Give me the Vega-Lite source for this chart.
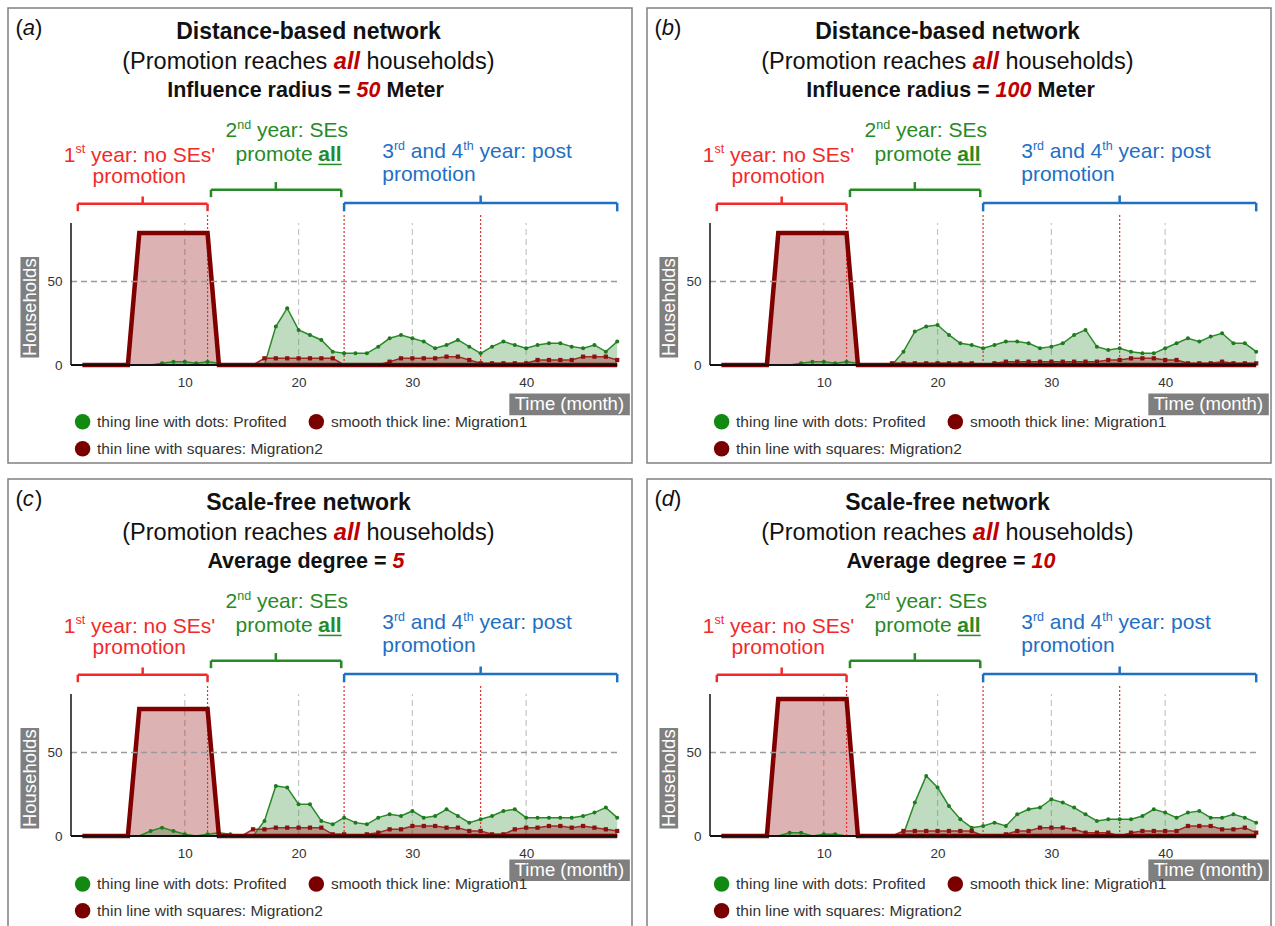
{
"$schema":"https://vega.github.io/schema/vega-lite/v6.json",
"padding":{"left":7,"top":7,"right":0,"bottom":0},
"data":{"values":[
{"panel":"a","kind":"meta","letter":"a","network":"Distance-based network","param":"Influence radius =","paramValue":"50","unit":"Meter"},
{"panel":"b","kind":"meta","letter":"b","network":"Distance-based network","param":"Influence radius =","paramValue":"100","unit":"Meter"},
{"panel":"c","kind":"meta","letter":"c","network":"Scale-free network","param":"Average degree =","paramValue":"5","unit":""},
{"panel":"d","kind":"meta","letter":"d","network":"Scale-free network","param":"Average degree =","paramValue":"10","unit":""},
{"panel":"a","month":1,"Profited":0,"Migration1":0,"Migration2":0},
{"panel":"a","month":2,"Profited":0,"Migration1":0,"Migration2":0},
{"panel":"a","month":3,"Profited":0,"Migration1":0,"Migration2":0},
{"panel":"a","month":4,"Profited":0,"Migration1":0,"Migration2":0},
{"panel":"a","month":5,"Profited":0,"Migration1":0,"Migration2":0},
{"panel":"a","month":6,"Profited":0,"Migration1":79,"Migration2":0},
{"panel":"a","month":7,"Profited":0,"Migration1":79,"Migration2":0},
{"panel":"a","month":8,"Profited":1,"Migration1":79,"Migration2":0},
{"panel":"a","month":9,"Profited":2,"Migration1":79,"Migration2":0},
{"panel":"a","month":10,"Profited":2,"Migration1":79,"Migration2":0},
{"panel":"a","month":11,"Profited":1,"Migration1":79,"Migration2":0},
{"panel":"a","month":12,"Profited":2,"Migration1":79,"Migration2":0},
{"panel":"a","month":13,"Profited":1,"Migration1":0,"Migration2":0},
{"panel":"a","month":14,"Profited":0,"Migration1":0,"Migration2":0},
{"panel":"a","month":15,"Profited":0,"Migration1":0,"Migration2":0},
{"panel":"a","month":16,"Profited":0,"Migration1":0,"Migration2":0},
{"panel":"a","month":17,"Profited":0,"Migration1":0,"Migration2":4},
{"panel":"a","month":18,"Profited":23,"Migration1":0,"Migration2":4},
{"panel":"a","month":19,"Profited":34,"Migration1":0,"Migration2":4},
{"panel":"a","month":20,"Profited":21,"Migration1":0,"Migration2":4},
{"panel":"a","month":21,"Profited":18,"Migration1":0,"Migration2":4},
{"panel":"a","month":22,"Profited":15,"Migration1":0,"Migration2":4},
{"panel":"a","month":23,"Profited":8,"Migration1":0,"Migration2":4},
{"panel":"a","month":24,"Profited":7,"Migration1":0,"Migration2":0},
{"panel":"a","month":25,"Profited":7,"Migration1":0,"Migration2":0},
{"panel":"a","month":26,"Profited":7,"Migration1":0,"Migration2":0},
{"panel":"a","month":27,"Profited":11,"Migration1":0,"Migration2":0},
{"panel":"a","month":28,"Profited":16,"Migration1":0,"Migration2":2},
{"panel":"a","month":29,"Profited":18,"Migration1":0,"Migration2":4},
{"panel":"a","month":30,"Profited":16,"Migration1":0,"Migration2":4},
{"panel":"a","month":31,"Profited":14,"Migration1":0,"Migration2":4},
{"panel":"a","month":32,"Profited":10,"Migration1":0,"Migration2":4},
{"panel":"a","month":33,"Profited":12,"Migration1":0,"Migration2":5},
{"panel":"a","month":34,"Profited":15,"Migration1":0,"Migration2":5},
{"panel":"a","month":35,"Profited":11,"Migration1":0,"Migration2":3},
{"panel":"a","month":36,"Profited":7,"Migration1":0,"Migration2":1},
{"panel":"a","month":37,"Profited":11,"Migration1":0,"Migration2":1},
{"panel":"a","month":38,"Profited":14,"Migration1":0,"Migration2":1},
{"panel":"a","month":39,"Profited":12,"Migration1":0,"Migration2":1},
{"panel":"a","month":40,"Profited":10,"Migration1":0,"Migration2":1},
{"panel":"a","month":41,"Profited":12,"Migration1":0,"Migration2":3},
{"panel":"a","month":42,"Profited":13,"Migration1":0,"Migration2":3},
{"panel":"a","month":43,"Profited":13,"Migration1":0,"Migration2":3},
{"panel":"a","month":44,"Profited":11,"Migration1":0,"Migration2":3},
{"panel":"a","month":45,"Profited":10,"Migration1":0,"Migration2":5},
{"panel":"a","month":46,"Profited":12,"Migration1":0,"Migration2":5},
{"panel":"a","month":47,"Profited":8,"Migration1":0,"Migration2":5},
{"panel":"a","month":48,"Profited":14,"Migration1":0,"Migration2":3},
{"panel":"b","month":1,"Profited":0,"Migration1":0,"Migration2":0},
{"panel":"b","month":2,"Profited":0,"Migration1":0,"Migration2":0},
{"panel":"b","month":3,"Profited":0,"Migration1":0,"Migration2":0},
{"panel":"b","month":4,"Profited":0,"Migration1":0,"Migration2":0},
{"panel":"b","month":5,"Profited":0,"Migration1":0,"Migration2":0},
{"panel":"b","month":6,"Profited":0,"Migration1":79,"Migration2":0},
{"panel":"b","month":7,"Profited":0,"Migration1":79,"Migration2":0},
{"panel":"b","month":8,"Profited":1,"Migration1":79,"Migration2":0},
{"panel":"b","month":9,"Profited":2,"Migration1":79,"Migration2":0},
{"panel":"b","month":10,"Profited":2,"Migration1":79,"Migration2":0},
{"panel":"b","month":11,"Profited":1,"Migration1":79,"Migration2":0},
{"panel":"b","month":12,"Profited":2,"Migration1":79,"Migration2":0},
{"panel":"b","month":13,"Profited":1,"Migration1":0,"Migration2":0},
{"panel":"b","month":14,"Profited":0,"Migration1":0,"Migration2":0},
{"panel":"b","month":15,"Profited":0,"Migration1":0,"Migration2":0},
{"panel":"b","month":16,"Profited":0,"Migration1":0,"Migration2":1},
{"panel":"b","month":17,"Profited":8,"Migration1":0,"Migration2":1},
{"panel":"b","month":18,"Profited":20,"Migration1":0,"Migration2":1},
{"panel":"b","month":19,"Profited":23,"Migration1":0,"Migration2":1},
{"panel":"b","month":20,"Profited":24,"Migration1":0,"Migration2":1},
{"panel":"b","month":21,"Profited":18,"Migration1":0,"Migration2":1},
{"panel":"b","month":22,"Profited":13,"Migration1":0,"Migration2":1},
{"panel":"b","month":23,"Profited":12,"Migration1":0,"Migration2":1},
{"panel":"b","month":24,"Profited":10,"Migration1":0,"Migration2":0},
{"panel":"b","month":25,"Profited":12,"Migration1":0,"Migration2":1},
{"panel":"b","month":26,"Profited":14,"Migration1":0,"Migration2":2},
{"panel":"b","month":27,"Profited":14,"Migration1":0,"Migration2":2},
{"panel":"b","month":28,"Profited":13,"Migration1":0,"Migration2":2},
{"panel":"b","month":29,"Profited":10,"Migration1":0,"Migration2":2},
{"panel":"b","month":30,"Profited":11,"Migration1":0,"Migration2":2},
{"panel":"b","month":31,"Profited":13,"Migration1":0,"Migration2":2},
{"panel":"b","month":32,"Profited":18,"Migration1":0,"Migration2":2},
{"panel":"b","month":33,"Profited":21,"Migration1":0,"Migration2":2},
{"panel":"b","month":34,"Profited":11,"Migration1":0,"Migration2":2},
{"panel":"b","month":35,"Profited":9,"Migration1":0,"Migration2":3},
{"panel":"b","month":36,"Profited":10,"Migration1":0,"Migration2":3},
{"panel":"b","month":37,"Profited":8,"Migration1":0,"Migration2":4},
{"panel":"b","month":38,"Profited":7,"Migration1":0,"Migration2":4},
{"panel":"b","month":39,"Profited":7,"Migration1":0,"Migration2":4},
{"panel":"b","month":40,"Profited":10,"Migration1":0,"Migration2":3},
{"panel":"b","month":41,"Profited":13,"Migration1":0,"Migration2":3},
{"panel":"b","month":42,"Profited":16,"Migration1":0,"Migration2":1},
{"panel":"b","month":43,"Profited":14,"Migration1":0,"Migration2":1},
{"panel":"b","month":44,"Profited":17,"Migration1":0,"Migration2":1},
{"panel":"b","month":45,"Profited":19,"Migration1":0,"Migration2":2},
{"panel":"b","month":46,"Profited":13,"Migration1":0,"Migration2":1},
{"panel":"b","month":47,"Profited":13,"Migration1":0,"Migration2":1},
{"panel":"b","month":48,"Profited":8,"Migration1":0,"Migration2":1},
{"panel":"c","month":1,"Profited":0,"Migration1":0,"Migration2":0},
{"panel":"c","month":2,"Profited":0,"Migration1":0,"Migration2":0},
{"panel":"c","month":3,"Profited":0,"Migration1":0,"Migration2":0},
{"panel":"c","month":4,"Profited":0,"Migration1":0,"Migration2":0},
{"panel":"c","month":5,"Profited":0,"Migration1":0,"Migration2":0},
{"panel":"c","month":6,"Profited":0,"Migration1":76,"Migration2":0},
{"panel":"c","month":7,"Profited":3,"Migration1":76,"Migration2":0},
{"panel":"c","month":8,"Profited":5,"Migration1":76,"Migration2":0},
{"panel":"c","month":9,"Profited":3,"Migration1":76,"Migration2":0},
{"panel":"c","month":10,"Profited":1,"Migration1":76,"Migration2":0},
{"panel":"c","month":11,"Profited":0,"Migration1":76,"Migration2":0},
{"panel":"c","month":12,"Profited":1,"Migration1":76,"Migration2":0},
{"panel":"c","month":13,"Profited":2,"Migration1":0,"Migration2":0},
{"panel":"c","month":14,"Profited":1,"Migration1":0,"Migration2":0},
{"panel":"c","month":15,"Profited":0,"Migration1":0,"Migration2":0},
{"panel":"c","month":16,"Profited":0,"Migration1":0,"Migration2":4},
{"panel":"c","month":17,"Profited":9,"Migration1":0,"Migration2":4},
{"panel":"c","month":18,"Profited":30,"Migration1":0,"Migration2":5},
{"panel":"c","month":19,"Profited":29,"Migration1":0,"Migration2":5},
{"panel":"c","month":20,"Profited":19,"Migration1":0,"Migration2":5},
{"panel":"c","month":21,"Profited":19,"Migration1":0,"Migration2":5},
{"panel":"c","month":22,"Profited":9,"Migration1":0,"Migration2":5},
{"panel":"c","month":23,"Profited":7,"Migration1":0,"Migration2":1},
{"panel":"c","month":24,"Profited":11,"Migration1":0,"Migration2":1},
{"panel":"c","month":25,"Profited":8,"Migration1":0,"Migration2":0},
{"panel":"c","month":26,"Profited":7,"Migration1":0,"Migration2":1},
{"panel":"c","month":27,"Profited":11,"Migration1":0,"Migration2":2},
{"panel":"c","month":28,"Profited":13,"Migration1":0,"Migration2":4},
{"panel":"c","month":29,"Profited":12,"Migration1":0,"Migration2":4},
{"panel":"c","month":30,"Profited":15,"Migration1":0,"Migration2":6},
{"panel":"c","month":31,"Profited":11,"Migration1":0,"Migration2":6},
{"panel":"c","month":32,"Profited":12,"Migration1":0,"Migration2":6},
{"panel":"c","month":33,"Profited":16,"Migration1":0,"Migration2":5},
{"panel":"c","month":34,"Profited":12,"Migration1":0,"Migration2":5},
{"panel":"c","month":35,"Profited":8,"Migration1":0,"Migration2":3},
{"panel":"c","month":36,"Profited":10,"Migration1":0,"Migration2":3},
{"panel":"c","month":37,"Profited":12,"Migration1":0,"Migration2":1},
{"panel":"c","month":38,"Profited":15,"Migration1":0,"Migration2":1},
{"panel":"c","month":39,"Profited":16,"Migration1":0,"Migration2":4},
{"panel":"c","month":40,"Profited":11,"Migration1":0,"Migration2":5},
{"panel":"c","month":41,"Profited":11,"Migration1":0,"Migration2":5},
{"panel":"c","month":42,"Profited":11,"Migration1":0,"Migration2":6},
{"panel":"c","month":43,"Profited":11,"Migration1":0,"Migration2":6},
{"panel":"c","month":44,"Profited":11,"Migration1":0,"Migration2":5},
{"panel":"c","month":45,"Profited":12,"Migration1":0,"Migration2":6},
{"panel":"c","month":46,"Profited":14,"Migration1":0,"Migration2":5},
{"panel":"c","month":47,"Profited":17,"Migration1":0,"Migration2":4},
{"panel":"c","month":48,"Profited":11,"Migration1":0,"Migration2":3},
{"panel":"d","month":1,"Profited":0,"Migration1":0,"Migration2":0},
{"panel":"d","month":2,"Profited":0,"Migration1":0,"Migration2":0},
{"panel":"d","month":3,"Profited":0,"Migration1":0,"Migration2":0},
{"panel":"d","month":4,"Profited":0,"Migration1":0,"Migration2":0},
{"panel":"d","month":5,"Profited":0,"Migration1":0,"Migration2":0},
{"panel":"d","month":6,"Profited":0,"Migration1":82,"Migration2":0},
{"panel":"d","month":7,"Profited":2,"Migration1":82,"Migration2":0},
{"panel":"d","month":8,"Profited":2,"Migration1":82,"Migration2":0},
{"panel":"d","month":9,"Profited":0,"Migration1":82,"Migration2":0},
{"panel":"d","month":10,"Profited":1,"Migration1":82,"Migration2":0},
{"panel":"d","month":11,"Profited":1,"Migration1":82,"Migration2":0},
{"panel":"d","month":12,"Profited":0,"Migration1":82,"Migration2":0},
{"panel":"d","month":13,"Profited":0,"Migration1":0,"Migration2":0},
{"panel":"d","month":14,"Profited":0,"Migration1":0,"Migration2":0},
{"panel":"d","month":15,"Profited":0,"Migration1":0,"Migration2":0},
{"panel":"d","month":16,"Profited":0,"Migration1":0,"Migration2":0},
{"panel":"d","month":17,"Profited":1,"Migration1":0,"Migration2":3},
{"panel":"d","month":18,"Profited":20,"Migration1":0,"Migration2":3},
{"panel":"d","month":19,"Profited":36,"Migration1":0,"Migration2":3},
{"panel":"d","month":20,"Profited":29,"Migration1":0,"Migration2":3},
{"panel":"d","month":21,"Profited":18,"Migration1":0,"Migration2":3},
{"panel":"d","month":22,"Profited":10,"Migration1":0,"Migration2":3},
{"panel":"d","month":23,"Profited":5,"Migration1":0,"Migration2":3},
{"panel":"d","month":24,"Profited":6,"Migration1":0,"Migration2":0},
{"panel":"d","month":25,"Profited":8,"Migration1":0,"Migration2":0},
{"panel":"d","month":26,"Profited":6,"Migration1":0,"Migration2":1},
{"panel":"d","month":27,"Profited":13,"Migration1":0,"Migration2":3},
{"panel":"d","month":28,"Profited":16,"Migration1":0,"Migration2":3},
{"panel":"d","month":29,"Profited":17,"Migration1":0,"Migration2":5},
{"panel":"d","month":30,"Profited":22,"Migration1":0,"Migration2":5},
{"panel":"d","month":31,"Profited":20,"Migration1":0,"Migration2":5},
{"panel":"d","month":32,"Profited":17,"Migration1":0,"Migration2":4},
{"panel":"d","month":33,"Profited":13,"Migration1":0,"Migration2":2},
{"panel":"d","month":34,"Profited":9,"Migration1":0,"Migration2":2},
{"panel":"d","month":35,"Profited":10,"Migration1":0,"Migration2":2},
{"panel":"d","month":36,"Profited":10,"Migration1":0,"Migration2":0},
{"panel":"d","month":37,"Profited":10,"Migration1":0,"Migration2":2},
{"panel":"d","month":38,"Profited":12,"Migration1":0,"Migration2":3},
{"panel":"d","month":39,"Profited":16,"Migration1":0,"Migration2":3},
{"panel":"d","month":40,"Profited":14,"Migration1":0,"Migration2":3},
{"panel":"d","month":41,"Profited":11,"Migration1":0,"Migration2":3},
{"panel":"d","month":42,"Profited":14,"Migration1":0,"Migration2":6},
{"panel":"d","month":43,"Profited":15,"Migration1":0,"Migration2":6},
{"panel":"d","month":44,"Profited":11,"Migration1":0,"Migration2":6},
{"panel":"d","month":45,"Profited":11,"Migration1":0,"Migration2":4},
{"panel":"d","month":46,"Profited":13,"Migration1":0,"Migration2":4},
{"panel":"d","month":47,"Profited":11,"Migration1":0,"Migration2":5},
{"panel":"d","month":48,"Profited":8,"Migration1":0,"Migration2":2}
]},
"facet":{"field":"panel","type":"nominal","header":{"labels":false,"title":null,"labelExpr":"''","labelFontSize":0,"labelPadding":0,"titlePadding":0,"labelColor":"transparent"}},
"columns":2,
"spacing":{"row":14,"column":13},
"resolve":{"axis":{"x":"independent","y":"independent"}},
"spec":{
"width":624,"height":455,
"layer":[
{"transform":[{"filter":"isValid(datum.month)"}],
 "layer":[
  {"transform":[{"filter":"datum.month % 10 == 0"}],
   "mark":{"type":"rule","color":"#c4c4c4","strokeDash":[6,4],"strokeWidth":1.2},
   "encoding":{"x":{"field":"month","type":"quantitative","title":null},"y":{"datum":0},"y2":{"datum":85}}},
  {"mark":{"type":"area","color":"#8b0000","opacity":0.3},
   "encoding":{
    "x":{"field":"month","type":"quantitative","title":null,"scale":{"domain":[-5.536,49.3],"nice":false,"zero":false},
     "axis":{"orient":"bottom","offset":-98,"values":[10,20,30,40],"domain":false,"ticks":false,"grid":false,"labelFontSize":13.5,"labelColor":"#333","labelPadding":10,"labelFont":"Liberation Sans","title":null}},
    "y":{"field":"Migration1","type":"quantitative","title":null,"stack":null,"scale":{"domain":[-58.68,213.77],"nice":false,"zero":false},
     "axis":{"orient":"left","offset":-63,"values":[0,50],"domain":false,"ticks":false,"grid":false,"labelFontSize":13.5,"labelColor":"#333","labelPadding":9,"labelFont":"Liberation Sans","title":null}},
    "y2":{"datum":0}}},
  {"mark":{"type":"area","color":"#2e8b2e","opacity":0.3},
   "encoding":{"x":{"field":"month","type":"quantitative","title":null},"y":{"field":"Profited","type":"quantitative","title":null,"stack":null},"y2":{"datum":0}}},
  {"mark":{"type":"area","color":"#8b0000","opacity":0.3},
   "encoding":{"x":{"field":"month","type":"quantitative","title":null},"y":{"field":"Migration2","type":"quantitative","title":null,"stack":null},"y2":{"datum":0}}},
  {"transform":[{"filter":"datum.month % 12 == 0 && datum.month < 48"}],
   "mark":{"type":"rule","color":"#e03030","strokeDash":[2,2],"strokeWidth":1.2},
   "encoding":{"x":{"field":"month","type":"quantitative","title":null},"y":{"datum":0},"y2":{"datum":90}}},
  {"mark":{"type":"line","color":"#2a8a2a","strokeWidth":1.5},
   "encoding":{"x":{"field":"month","type":"quantitative","title":null},"y":{"field":"Profited","type":"quantitative","title":null}}},
  {"transform":[{"filter":"datum.Profited > 0"}],
   "mark":{"type":"point","shape":"circle","filled":true,"size":16,"color":"#1d7a1d","opacity":1},
   "encoding":{"x":{"field":"month","type":"quantitative","title":null},"y":{"field":"Profited","type":"quantitative","title":null}}},
  {"mark":{"type":"line","color":"#a02828","strokeWidth":1.5},
   "encoding":{"x":{"field":"month","type":"quantitative","title":null},"y":{"field":"Migration2","type":"quantitative","title":null}}},
  {"transform":[{"filter":"datum.Migration2 > 0"}],
   "mark":{"type":"point","shape":"square","filled":true,"size":18,"color":"#8b1010","opacity":1},
   "encoding":{"x":{"field":"month","type":"quantitative","title":null},"y":{"field":"Migration2","type":"quantitative","title":null}}},
  {"mark":{"type":"line","color":"#800000","strokeWidth":4.5,"strokeJoin":"miter"},
   "encoding":{"x":{"field":"month","type":"quantitative","title":null},"y":{"field":"Migration1","type":"quantitative","title":null}}}
 ]},
{"transform":[{"filter":"datum.kind == 'meta'"}],
 "layer":[
  {"mark":{"type":"rule","color":"#9a9a9a","strokeDash":[6,4],"strokeWidth":1.5},"encoding":{"x":{"datum":0},"x2":{"datum":48},"y":{"datum":50}}},
  {"mark":{"type":"rule","color":"#111","strokeWidth":1.5},"encoding":{"x":{"datum":0},"y":{"datum":0},"y2":{"datum":85}}},
  {"mark":{"type":"rule","color":"#111","strokeWidth":2},"encoding":{"x":{"datum":0},"x2":{"datum":48},"y":{"datum":0}}},

  {"mark":{"type":"text","text":"(","align":"left","fontSize":22},"encoding":{"x":{"datum":-4.88},"y":{"datum":202}}},
  {"mark":{"type":"text","align":"left","fontSize":22,"fontStyle":"italic","dx":7.3},"encoding":{"x":{"datum":-4.88},"y":{"datum":202},"text":{"field":"letter"}}},
  {"mark":{"type":"text","text":")","align":"left","fontSize":22,"dx":19.5},"encoding":{"x":{"datum":-4.88},"y":{"datum":202}}},

  {"mark":{"type":"text","align":"center","fontSize":23,"fontWeight":"bold"},"encoding":{"x":{"datum":20.87},"y":{"datum":199.3},"text":{"field":"network"}}},
  {"mark":{"type":"text","text":"(Promotion reaches","align":"right","fontSize":23.5,"dx":-6.5},"encoding":{"x":{"datum":23.1},"y":{"datum":181.3}}},
  {"mark":{"type":"text","text":"all","align":"left","fontSize":23.5,"fontWeight":"bold","fontStyle":"italic","color":"#c00000"},"encoding":{"x":{"datum":23.1},"y":{"datum":181.3}}},
  {"mark":{"type":"text","text":"households)","align":"left","fontSize":23.5,"dx":32.6},"encoding":{"x":{"datum":23.1},"y":{"datum":181.3}}},

  {"transform":[{"filter":"datum.panel == 'a' || datum.panel == 'b'"}],
   "layer":[
    {"mark":{"type":"text","align":"right","fontSize":21.5,"fontWeight":"bold","dx":-6},"encoding":{"x":{"datum":25.1},"y":{"datum":163.9},"text":{"field":"param"}}},
    {"mark":{"type":"text","align":"left","fontSize":21.5,"fontWeight":"bold","fontStyle":"italic","color":"#c00000"},"encoding":{"x":{"datum":25.1},"y":{"datum":163.9},"text":{"field":"paramValue"}}},
    {"mark":{"type":"rect","color":"#7f7f7f"},"encoding":{"x":{"datum":38.52},"x2":{"datum":49.11},"y":{"datum":-17.1},"y2":{"datum":-30.1}}},
    {"mark":{"type":"text","text":"Time (month)","align":"center","fontSize":18.5,"color":"#ffffff"},"encoding":{"x":{"datum":43.8},"y":{"datum":-23.6}}},
    {"mark":{"type":"point","shape":"circle","filled":true,"size":240,"color":"#128a12","opacity":1},"encoding":{"x":{"datum":1.02},"y":{"datum":-34}}},
    {"mark":{"type":"text","text":"thing line with dots: Profited","align":"left","fontSize":15.5,"color":"#333"},"encoding":{"x":{"datum":2.29},"y":{"datum":-34}}},
    {"mark":{"type":"point","shape":"circle","filled":true,"size":240,"color":"#7a0000","opacity":1},"encoding":{"x":{"datum":21.56},"y":{"datum":-34}}},
    {"mark":{"type":"text","text":"smooth thick line: Migration1","align":"left","fontSize":15.5,"color":"#333"},"encoding":{"x":{"datum":22.84},"y":{"datum":-34}}},
    {"mark":{"type":"point","shape":"circle","filled":true,"size":240,"color":"#7a0000","opacity":1},"encoding":{"x":{"datum":1.02},"y":{"datum":-50.1}}},
    {"mark":{"type":"text","text":"thin line with squares: Migration2","align":"left","fontSize":15.5,"color":"#333"},"encoding":{"x":{"datum":2.29},"y":{"datum":-50.1}}}
   ]},
  {"transform":[{"filter":"datum.panel == 'a'"}],
   "mark":{"type":"text","align":"left","fontSize":21.5,"fontWeight":"bold","dx":29.9},"encoding":{"x":{"datum":25.1},"y":{"datum":163.9},"text":{"field":"unit"}}},
  {"transform":[{"filter":"datum.panel == 'b'"}],
   "mark":{"type":"text","align":"left","fontSize":21.5,"fontWeight":"bold","dx":41.9},"encoding":{"x":{"datum":25.1},"y":{"datum":163.9},"text":{"field":"unit"}}},
  {"transform":[{"filter":"datum.panel == 'c' || datum.panel == 'd'"}],
   "layer":[
    {"mark":{"type":"text","align":"right","fontSize":21.5,"fontWeight":"bold","dx":-6},"encoding":{"x":{"datum":28.25},"y":{"datum":163.9},"text":{"field":"param"}}},
    {"mark":{"type":"text","align":"left","fontSize":21.5,"fontWeight":"bold","fontStyle":"italic","color":"#c00000"},"encoding":{"x":{"datum":28.25},"y":{"datum":163.9},"text":{"field":"paramValue"}}},
    {"mark":{"type":"rect","color":"#7f7f7f"},"encoding":{"x":{"datum":38.52},"x2":{"datum":49.11},"y":{"datum":-14},"y2":{"datum":-27}}},
    {"mark":{"type":"text","text":"Time (month)","align":"center","fontSize":18.5,"color":"#ffffff"},"encoding":{"x":{"datum":43.8},"y":{"datum":-20.5}}},
    {"mark":{"type":"point","shape":"circle","filled":true,"size":240,"color":"#128a12","opacity":1},"encoding":{"x":{"datum":1.02},"y":{"datum":-28.8}}},
    {"mark":{"type":"text","text":"thing line with dots: Profited","align":"left","fontSize":15.5,"color":"#333"},"encoding":{"x":{"datum":2.29},"y":{"datum":-28.8}}},
    {"mark":{"type":"point","shape":"circle","filled":true,"size":240,"color":"#7a0000","opacity":1},"encoding":{"x":{"datum":21.56},"y":{"datum":-28.8}}},
    {"mark":{"type":"text","text":"smooth thick line: Migration1","align":"left","fontSize":15.5,"color":"#333"},"encoding":{"x":{"datum":22.84},"y":{"datum":-28.8}}},
    {"mark":{"type":"point","shape":"circle","filled":true,"size":240,"color":"#7a0000","opacity":1},"encoding":{"x":{"datum":1.02},"y":{"datum":-44.7}}},
    {"mark":{"type":"text","text":"thin line with squares: Migration2","align":"left","fontSize":15.5,"color":"#333"},"encoding":{"x":{"datum":2.29},"y":{"datum":-44.7}}}
   ]},

  {"mark":{"type":"text","text":"1","align":"left","fontSize":21,"color":"#f22a2a"},"encoding":{"x":{"datum":-0.63},"y":{"datum":125.4}}},
  {"mark":{"type":"text","text":"st","align":"left","fontSize":12.5,"color":"#f22a2a","dx":11.7,"dy":-6.5},"encoding":{"x":{"datum":-0.63},"y":{"datum":125.4}}},
  {"mark":{"type":"text","text":"year: no SEs'","align":"left","fontSize":21,"color":"#f22a2a","dx":27.2},"encoding":{"x":{"datum":-0.63},"y":{"datum":125.4}}},
  {"mark":{"type":"text","text":"promotion","align":"center","fontSize":21,"color":"#f22a2a"},"encoding":{"x":{"datum":6.0},"y":{"datum":112.5}}},

  {"mark":{"type":"text","text":"2","align":"left","fontSize":21,"color":"#268a26"},"encoding":{"x":{"datum":13.58},"y":{"datum":140}}},
  {"mark":{"type":"text","text":"nd","align":"left","fontSize":12.5,"color":"#268a26","dx":11.7,"dy":-6.5},"encoding":{"x":{"datum":13.58},"y":{"datum":140}}},
  {"mark":{"type":"text","text":"year: SEs","align":"left","fontSize":21,"color":"#268a26","dx":31.4},"encoding":{"x":{"datum":13.58},"y":{"datum":140}}},
  {"mark":{"type":"text","text":"promote","align":"left","fontSize":21,"color":"#268a26"},"encoding":{"x":{"datum":14.46},"y":{"datum":126}}},
  {"mark":{"type":"text","text":"all","align":"left","fontSize":21,"fontWeight":"bold","color":"#268a26","dx":82.8},"encoding":{"x":{"datum":14.46},"y":{"datum":126}}},
  {"mark":{"type":"rule","color":"#268a26","strokeWidth":1.5},"encoding":{"x":{"datum":21.73},"x2":{"datum":23.79},"y":{"datum":120.1}}},

  {"mark":{"type":"text","text":"3","align":"left","fontSize":21,"color":"#1f6fc4"},"encoding":{"x":{"datum":27.35},"y":{"datum":127.4}}},
  {"mark":{"type":"text","text":"rd","align":"left","fontSize":12.5,"color":"#1f6fc4","dx":11.7,"dy":-6.5},"encoding":{"x":{"datum":27.35},"y":{"datum":127.4}}},
  {"mark":{"type":"text","text":"and","align":"left","fontSize":21,"color":"#1f6fc4","dx":28.6},"encoding":{"x":{"datum":27.35},"y":{"datum":127.4}}},
  {"mark":{"type":"text","text":"4","align":"left","fontSize":21,"color":"#1f6fc4","dx":69.4},"encoding":{"x":{"datum":27.35},"y":{"datum":127.4}}},
  {"mark":{"type":"text","text":"th","align":"left","fontSize":12.5,"color":"#1f6fc4","dx":81.1,"dy":-6.5},"encoding":{"x":{"datum":27.35},"y":{"datum":127.4}}},
  {"mark":{"type":"text","text":"year: post","align":"left","fontSize":21,"color":"#1f6fc4","dx":97.3},"encoding":{"x":{"datum":27.35},"y":{"datum":127.4}}},
  {"mark":{"type":"text","text":"promotion","align":"left","fontSize":21,"color":"#1f6fc4"},"encoding":{"x":{"datum":27.35},"y":{"datum":113.5}}},

  {"mark":{"type":"rule","color":"#f22a2a","strokeWidth":2.5},"encoding":{"x":{"datum":0.6},"x2":{"datum":12.0},"y":{"datum":96.5}}},
  {"mark":{"type":"rule","color":"#f22a2a","strokeWidth":2.5},"encoding":{"x":{"datum":0.6},"y":{"datum":92.1},"y2":{"datum":96.5}}},
  {"mark":{"type":"rule","color":"#f22a2a","strokeWidth":2.5},"encoding":{"x":{"datum":12.0},"y":{"datum":92.1},"y2":{"datum":96.5}}},
  {"mark":{"type":"rule","color":"#f22a2a","strokeWidth":2.5},"encoding":{"x":{"datum":6.3},"y":{"datum":96.5},"y2":{"datum":100.9}}},

  {"mark":{"type":"rule","color":"#268a26","strokeWidth":2.5},"encoding":{"x":{"datum":12.3},"x2":{"datum":23.75},"y":{"datum":105}}},
  {"mark":{"type":"rule","color":"#268a26","strokeWidth":2.5},"encoding":{"x":{"datum":12.3},"y":{"datum":100.5},"y2":{"datum":105}}},
  {"mark":{"type":"rule","color":"#268a26","strokeWidth":2.5},"encoding":{"x":{"datum":23.75},"y":{"datum":100.5},"y2":{"datum":105}}},
  {"mark":{"type":"rule","color":"#268a26","strokeWidth":2.5},"encoding":{"x":{"datum":18.0},"y":{"datum":105},"y2":{"datum":109.5}}},

  {"mark":{"type":"rule","color":"#1f6fc4","strokeWidth":2.5},"encoding":{"x":{"datum":24.0},"x2":{"datum":48.0},"y":{"datum":97}}},
  {"mark":{"type":"rule","color":"#1f6fc4","strokeWidth":2.5},"encoding":{"x":{"datum":24.0},"y":{"datum":92},"y2":{"datum":97}}},
  {"mark":{"type":"rule","color":"#1f6fc4","strokeWidth":2.5},"encoding":{"x":{"datum":48.0},"y":{"datum":92},"y2":{"datum":97}}},
  {"mark":{"type":"rule","color":"#1f6fc4","strokeWidth":2.5},"encoding":{"x":{"datum":36.0},"y":{"datum":97},"y2":{"datum":101.5}}},

  {"mark":{"type":"rect","color":"#7f7f7f"},"encoding":{"x":{"datum":-4.44},"x2":{"datum":-2.8},"y":{"datum":4.5},"y2":{"datum":64.7}}},
  {"mark":{"type":"text","text":"Households","align":"center","angle":270,"fontSize":18.5,"color":"#ffffff"},"encoding":{"x":{"datum":-3.62},"y":{"datum":34.6}}}
 ]}
]},
"config":{
 "font":"Liberation Sans",
 "view":{"stroke":"#808080","strokeWidth":1.5},
 "text":{"font":"Liberation Sans","baseline":"middle","color":"#111"},
 "header":{"labels":false,"labelFontSize":0,"labelPadding":0,"titlePadding":0,"labelColor":"transparent"}
}
}
